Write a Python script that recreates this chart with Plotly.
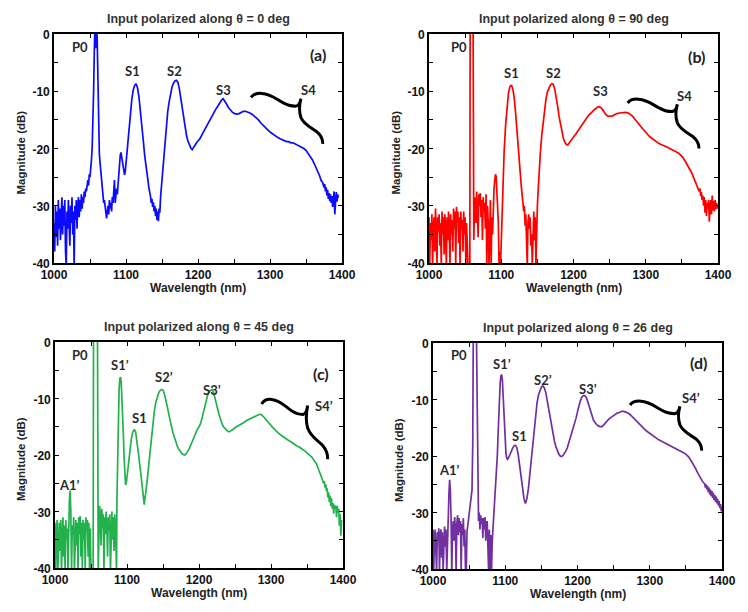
import plotly.graph_objects as go

PAGE_W, PAGE_H = 748, 612
OFF = 8                      # default page body margin
W, H = PAGE_W - 2 * OFF, PAGE_H - 2 * OFF

# ---------------- data (wavelength nm, magnitude dB) ----------------
spec_a = [(1000,-33),(1001,-38),(1002,-30),(1003,-35.5),(1004,-31),(1005,-37),(1006,-29),(1007,-34),(1008,-30.5),(1009,-36),
(1010,-32),(1011,-28.5),(1012,-35),(1013,-30),(1014,-33.5),(1015,-29),(1016,-38),(1017,-40.5),(1018,-31),(1019,-34),
(1020,-29),(1021,-32),(1022,-37),(1023,-30),(1024,-33),(1025,-28.5),(1026,-35),(1027,-31),(1028,-40.5),(1029,-30),
(1030,-32.5),(1031,-29),(1032,-34),(1033,-30),(1034,-28.5),(1035,-32),(1036,-29),(1037,-31),(1038,-28),(1039,-30.5),
(1040,-28.5),(1041,-29.5),(1042,-27.5),(1043,-28.5),(1044,-27),(1045,-27.5),(1046,-26),(1047,-25.5),(1048,-26.5),(1049,-24.5),
(1050,-25),(1051,-24),(1052,-22),(1053,-20),(1054,-16),(1055,-10),(1056,-3),(1057,2),(1058,-2.5),(1059,2),
(1060,-1),(1061,-8),(1062,-17),(1063,-21),(1064,-22.5),(1065,-24),(1066,-25.5),(1067,-27),(1068,-28),(1069,-29.5),
(1070,-29),(1071,-30.5),(1072,-31),(1073,-32.2),(1074,-31),(1075,-30),(1076,-31.5),(1077,-29),(1078,-30.5),(1079,-29.5),
(1080,-31),(1081,-28.5),(1082,-29.5),(1083,-27),(1084,-25.5),(1085,-29.5),(1086,-28),(1087,-27),(1088,-28),(1089,-26),
(1090,-24.5),(1091,-23),(1092,-21.2),(1093,-20.7),(1094,-21.5),(1095,-22.8),(1096,-23.5),(1097,-24.2),(1098,-24.6),(1099,-24),
(1100,-22.5),(1102,-20),(1104,-16.8),(1106,-13.8),(1108,-11.5),(1110,-9.8),(1112,-9.0),(1114,-8.7),(1116,-9.4),(1118,-11),
(1120,-13.2),(1122,-15.8),(1124,-18.6),(1126,-21.3),(1128,-23.6),(1130,-25.5),(1132,-27),(1134,-28.3),(1135,-29.5),(1136,-28.8),
(1137,-30.2),(1138,-29.4),(1139,-31),(1140,-30),(1141,-31.8),(1142,-30.5),(1143,-32.5),(1144,-31),(1145,-32.7),(1146,-30.5),
(1147,-31.2),(1148,-28.5),(1149,-27),(1150,-25),(1152,-21.5),(1154,-18.3),(1156,-15.7),(1158,-13.5),(1160,-11.8),(1162,-10.3),
(1164,-9.2),(1166,-8.6),(1168,-8.2),(1170,-8.1),(1172,-8.4),(1174,-9.5),(1176,-11.1),(1178,-13),(1180,-14.8),(1182,-16.4),
(1184,-17.7),(1186,-18.7),(1188,-19.4),(1190,-19.9),(1192,-20.2),(1194,-19.9),(1196,-19.4),(1198,-19),(1200,-18.7),(1203,-18.2),
(1206,-17.5),(1209,-16.8),(1212,-16),(1215,-15.2),(1218,-14.6),(1221,-13.9),(1224,-13.3),(1227,-12.7),(1230,-12.0),(1233,-11.5),
(1235,-11.3),(1237,-11.6),(1239,-12.1),(1242,-12.8),(1245,-13.3),(1248,-13.7),(1251,-13.9),(1254,-14.0),(1257,-13.9),(1260,-13.7),
(1263,-13.5),(1266,-13.5),(1269,-13.6),(1272,-13.8),(1275,-14.0),(1278,-14.3),(1281,-14.6),(1284,-15.0),(1287,-15.5),(1290,-15.9),
(1293,-16.3),(1296,-16.6),(1299,-17.0),(1302,-17.3),(1305,-17.6),(1308,-17.8),(1311,-18.1),(1314,-18.3),(1317,-18.5),(1320,-18.6),
(1323,-18.8),(1326,-18.8),(1329,-19.0),(1332,-19.0),(1335,-19.2),(1338,-19.3),(1341,-19.5),(1344,-19.7),(1347,-20.0),(1350,-20.3),
(1353,-20.8),(1356,-21.4),(1359,-22.0),(1362,-22.8),(1365,-23.6),(1367,-24.3),(1369,-24.8),(1371,-25.6),(1373,-25.9),(1375,-26.8),
(1376,-26.2),(1377,-27.5),(1378,-26.8),(1379,-28.2),(1380,-27.2),(1381,-28.8),(1382,-27.8),(1383,-29.2),(1384,-28),(1385,-29.5),
(1386,-28.3),(1387,-30.2),(1388,-28.5),(1389,-27.5),(1390,-31.5),(1391,-29.5),(1392,-27.6),(1393,-29.3),(1394,-28),(1395,-28.6)]

spec_b = [(1000,-32),(1001,-40.5),(1002,-33),(1003,-36),(1004,-31.5),(1005,-40.5),(1006,-34),(1007,-32),(1008,-38),(1009,-30.5),
(1010,-35),(1011,-40.5),(1012,-32),(1013,-34.5),(1014,-31.5),(1015,-37),(1016,-33),(1017,-40.5),(1018,-31),(1019,-35),
(1020,-32),(1021,-38.5),(1022,-31.5),(1023,-34),(1024,-40.5),(1025,-32),(1026,-36),(1027,-31),(1028,-33.5),(1029,-40.5),
(1030,-31.5),(1031,-35),(1032,-32.5),(1033,-38),(1034,-30.5),(1035,-34),(1036,-31),(1037,-40.5),(1038,-30.2),(1039,-33),
(1040,-31),(1041,-36.5),(1042,-32),(1043,-40.5),(1044,-31),(1045,-34),(1046,-32.5),(1047,-38),(1048,-31),(1049,-35),
(1050,-32),(1051,-40.5),(1052,-33),(1053,-36),(1054,-40.5),(1056.5,-40.5),(1057,3),(1061,3),(1062,-36),(1063,-30),
(1064,-28.5),(1065,-33),(1066,-27.5),(1067,-31),(1068,-35.5),(1069,-28),(1070,-30),(1071,-27.8),(1072,-32),(1073,-29),
(1074,-36),(1075,-28.5),(1076,-31),(1077,-29.5),(1078,-34),(1079,-28),(1080,-40.5),(1081,-30),(1082,-33),(1083,-40.5),
(1084,-31.5),(1085,-29),(1086,-40.5),(1087,-32),(1088,-35),(1089,-30),(1090,-27),(1091,-25.5),(1092,-24.5),(1093,-25),
(1094,-27),(1095,-29),(1096,-33),(1097,-40.5),(1098,-38),(1099,-40.5),(1100,-36),(1101,-30),(1102,-26),(1104,-20.5),
(1106,-16),(1108,-12.6),(1110,-10.3),(1112,-9.2),(1114,-8.9),(1116,-9.6),(1118,-11.2),(1120,-14),(1122,-17.5),(1124,-21),
(1126,-24.3),(1128,-27),(1130,-29.5),(1131,-31),(1132,-30),(1133,-33.5),(1134,-31.5),(1135,-36),(1136,-40.5),(1137,-33),
(1138,-31.5),(1139,-34),(1140,-32),(1141,-37),(1142,-35),(1143,-40.5),(1144,-34),(1145,-31),(1146,-36),(1147,-32),
(1148,-40.5),(1149,-33),(1150,-30),(1151,-27.5),(1152,-25),(1154,-21),(1156,-17.8),(1158,-15.2),(1160,-13),(1162,-11.3),
(1164,-10.1),(1166,-9.3),(1168,-8.9),(1170,-8.7),(1172,-8.8),(1174,-9.6),(1176,-10.8),(1178,-12.6),(1180,-14.4),(1182,-15.9),
(1184,-17.2),(1186,-18.2),(1188,-18.9),(1190,-19.3),(1192,-19.4),(1194,-19.1),(1196,-18.7),(1198,-18.3),(1200,-18.0),(1203,-17.5),
(1206,-16.9),(1209,-16.3),(1212,-15.7),(1215,-15.2),(1218,-14.7),(1221,-14.2),(1224,-13.8),(1227,-13.4),(1230,-13.1),(1233,-12.8),
(1236,-12.7),(1239,-13.0),(1242,-13.6),(1245,-14.1),(1248,-14.4),(1251,-14.4),(1254,-14.3),(1257,-14.1),(1260,-13.9),(1264,-13.8),
(1268,-13.7),(1272,-13.7),(1276,-13.8),(1279,-14.1),(1282,-14.4),(1285,-14.9),(1288,-15.3),(1291,-15.8),(1294,-16.3),(1297,-16.8),
(1300,-17.2),(1303,-17.6),(1306,-18.0),(1309,-18.3),(1312,-18.6),(1315,-18.9),(1318,-19.1),(1321,-19.3),(1324,-19.4),(1327,-19.6),
(1330,-19.8),(1333,-20.0),(1336,-20.1),(1339,-20.3),(1342,-20.5),(1345,-20.8),(1348,-21.1),(1351,-21.5),(1354,-22.1),(1357,-22.7),
(1360,-23.4),(1363,-24.1),(1366,-25.0),(1368,-25.6),(1370,-26.3),(1372,-26.8),(1374,-27.5),(1375,-27),(1376,-28.3),(1377,-27.6),
(1378,-29),(1379,-28.2),(1380,-30),(1381,-28.5),(1382,-31.2),(1383,-29),(1384,-31.8),(1385,-29.5),(1386,-30.5),(1387,-29),
(1388,-32.8),(1389,-30.5),(1390,-29),(1391,-31.5),(1392,-28.2),(1393,-30.8),(1394,-29.2),(1395,-31),(1396,-29),(1397,-30.6),
(1398,-29.5),(1399,-30.5),(1400,-30)]

spec_c = [(1000,-32),(1001,-40.5),(1002,-33.5),(1003,-31.5),(1004,-40.5),(1005,-34),(1006,-32),(1007,-37),(1008,-31.5),(1009,-40.5),
(1010,-33),(1011,-31),(1012,-38),(1013,-32.5),(1014,-40.5),(1015,-31.5),(1016,-35),(1017,-33),(1018,-40.5),(1019,-31),
(1020,-28),(1021,-26.3),(1022,-30),(1023,-40.5),(1024,-32.5),(1025,-34),(1026,-31),(1027,-40.5),(1028,-33),(1029,-31.5),
(1030,-36),(1031,-32),(1032,-40.5),(1033,-31),(1034,-34),(1035,-30.8),(1036,-38),(1037,-32),(1038,-40.5),(1039,-31.5),
(1040,-35),(1041,-32),(1042,-40.5),(1043,-31),(1044,-33.5),(1045,-31.5),(1046,-38),(1047,-32),(1048,-40.5),(1049,-33),
(1050,-40.5),(1053,-40.5),(1053.5,3),(1059,3),(1060,-40.5),(1061,-34),(1062,-29),(1063,-31),(1064,-36),(1065,-29.5),
(1066,-33),(1067,-30.5),(1068,-40.5),(1069,-31),(1070,-34),(1071,-30),(1072,-32.5),(1073,-38),(1074,-31),(1075,-33.5),
(1076,-30.5),(1077,-40.5),(1078,-32),(1079,-30),(1080,-35),(1081,-31),(1082,-37),(1083,-30.5),(1084,-33),(1085,-40.5),
(1085.5,-40.5),(1086,-28),(1087,-20),(1088,-13),(1089,-8.5),(1090,-6.5),(1091,-6.2),(1092,-7.2),(1093,-9.5),(1094,-12.5),
(1095,-16.5),(1096,-20.5),(1097,-23.5),(1098,-25.3),(1099,-25),(1100,-23.8),(1102,-21.2),(1104,-19),(1106,-17.2),(1108,-16),
(1110,-15.5),(1112,-15.9),(1114,-17.6),(1116,-19.8),(1118,-22),(1120,-24.3),(1122,-26.6),(1123,-28.5),(1124,-28.8),(1125,-27.5),
(1126,-26.8),(1128,-24.5),(1130,-22.1),(1132,-19.4),(1134,-16.7),(1136,-14.2),(1138,-12.2),(1140,-10.7),(1142,-9.7),(1144,-9.0),
(1146,-8.6),(1148,-8.4),(1150,-8.5),(1152,-9.2),(1154,-10.3),(1156,-11.6),(1158,-12.8),(1160,-14.0),(1162,-15.1),(1164,-16.1),
(1166,-17.0),(1168,-17.8),(1170,-18.5),(1172,-19.0),(1174,-19.4),(1176,-19.7),(1178,-19.9),(1180,-20.0),(1182,-19.8),(1184,-19.5),
(1186,-19.0),(1188,-18.4),(1190,-17.8),(1192,-17.1),(1194,-16.4),(1196,-15.9),(1198,-15.4),(1200,-15.0),(1202,-14.5),(1204,-13.6),
(1206,-12.5),(1208,-11.2),(1210,-10.2),(1212,-9.4),(1214,-8.8),(1216,-8.5),(1218,-8.4),(1220,-8.8),(1222,-9.7),(1224,-10.8),
(1226,-11.9),(1228,-12.9),(1230,-13.8),(1232,-14.5),(1234,-15.0),(1237,-15.5),(1240,-15.8),(1242,-15.9),(1245,-15.7),(1248,-15.4),
(1251,-15.1),(1254,-14.9),(1257,-14.6),(1260,-14.4),(1263,-14.2),(1266,-13.9),(1269,-13.7),(1272,-13.5),(1275,-13.3),(1278,-13.1),
(1281,-12.9),(1284,-12.8),(1286,-12.8),(1288,-13.0),(1291,-13.4),(1294,-13.9),(1297,-14.4),(1300,-14.8),(1303,-15.2),(1306,-15.6),
(1309,-16.0),(1312,-16.3),(1315,-16.6),(1318,-16.9),(1321,-17.1),(1324,-17.4),(1327,-17.6),(1330,-17.9),(1333,-18.2),(1336,-18.4),
(1339,-18.6),(1342,-18.8),(1345,-19.1),(1348,-19.4),(1351,-19.7),(1354,-20.0),(1357,-20.4),(1360,-21.0),(1363,-21.5),(1365,-22.2),
(1367,-22.8),(1369,-23.5),(1371,-24.2),(1373,-25.0),(1374,-24.6),(1375,-25.8),(1376,-25.2),(1377,-26.4),(1378,-25.9),(1379,-27.5),
(1380,-26.6),(1381,-28.3),(1382,-27.2),(1383,-29),(1384,-27.6),(1385,-29.5),(1386,-28.5),(1387,-30.4),(1388,-28.8),(1389,-29.5),
(1390,-29),(1391,-31),(1392,-29),(1393,-30.2),(1394,-29.5),(1395,-32.5),(1396,-30.5),(1397,-34.3),(1398,-31.5)]

spec_d = [(1000,-33),(1001,-40.5),(1002,-34.5),(1003,-33),(1004,-37),(1005,-40.5),(1006,-33.5),(1007,-35),(1008,-32.8),(1009,-40.5),
(1010,-34),(1011,-33),(1012,-38),(1013,-33.5),(1014,-40.5),(1015,-34),(1016,-32.5),(1017,-36),(1018,-33),(1019,-40.5),
(1020,-35),(1021,-32),(1022,-27),(1023,-24.2),(1024,-26),(1025,-31),(1026,-40.5),(1027,-33),(1028,-31.5),(1029,-35),
(1030,-30.8),(1031,-33),(1032,-40.5),(1033,-32),(1034,-30.5),(1035,-34),(1036,-31),(1037,-33.5),(1038,-31.5),(1039,-40.5),
(1040,-32),(1041,-34),(1042,-31),(1043,-36),(1044,-33),(1045,-40.5),(1046,-40.5),(1047,-33.5),(1048,-32.5),(1049,-30.8),
(1050,-30),(1051,-29),(1052,-28.5),(1053,-27.8),(1054,-26),(1055,-18),(1055.8,3),(1060,3),(1061,-12),(1061.8,-27),
(1062.5,-29),(1063,-31.5),(1064,-30),(1065,-33),(1066,-30.5),(1067,-32),(1068,-31),(1069,-34.5),(1070,-31),(1071,-33),
(1072,-30.8),(1073,-35),(1074,-32),(1075,-31.5),(1076,-36),(1077,-40.5),(1078,-33),(1079,-40.5),(1080,-34),(1081,-40.5),
(1082,-35),(1083,-33),(1084,-30.5),(1085,-28.5),(1086,-27),(1087,-25),(1088,-22.8),(1089,-20),(1090,-16.5),(1091,-12.8),
(1092,-9.5),(1093,-7),(1094,-5.8),(1095,-5.6),(1096,-6.5),(1097,-9),(1098,-12.5),(1099,-15.8),(1100,-18.2),(1101,-19.6),
(1102,-20.3),(1103,-20.6),(1104,-20.5),(1106,-20),(1108,-19.3),(1110,-18.7),(1112,-18.2),(1114,-18.1),(1116,-18.5),(1118,-19.8),
(1120,-21.8),(1122,-24),(1124,-26),(1126,-27.6),(1128,-28.4),(1130,-27.5),(1132,-25.8),(1134,-23.3),(1136,-20.4),(1138,-17.5),
(1140,-14.9),(1142,-12.5),(1144,-10.6),(1146,-9.2),(1148,-8.3),(1150,-7.8),(1152,-7.6),(1154,-7.9),(1156,-8.7),(1158,-10.1),
(1160,-11.8),(1162,-13.4),(1164,-14.9),(1166,-16.2),(1168,-17.3),(1170,-18.3),(1172,-19.0),(1174,-19.6),(1176,-20.0),(1178,-20.1),
(1180,-19.9),(1182,-19.6),(1184,-19.1),(1186,-18.5),(1188,-17.7),(1190,-16.9),(1192,-16.1),(1194,-15.3),(1196,-14.4),(1198,-13.3),
(1200,-12.2),(1202,-11.1),(1204,-10.2),(1206,-9.6),(1208,-9.3),(1210,-9.3),(1212,-9.6),(1214,-10.3),(1216,-11.2),(1218,-12.2),
(1220,-13.0),(1222,-13.6),(1225,-14.2),(1228,-14.6),(1231,-14.8),(1234,-14.8),(1237,-14.4),(1240,-13.9),(1243,-13.5),(1246,-13.2),
(1249,-12.9),(1252,-12.6),(1255,-12.4),(1258,-12.3),(1261,-12.1),(1264,-12.1),(1267,-12.2),(1270,-12.4),(1273,-12.7),(1276,-13.1),
(1279,-13.5),(1282,-13.9),(1285,-14.3),(1288,-14.7),(1291,-15.0),(1294,-15.4),(1297,-15.7),(1300,-16.0),(1303,-16.3),(1306,-16.6),
(1309,-16.9),(1312,-17.1),(1315,-17.3),(1318,-17.5),(1321,-17.7),(1324,-17.9),(1327,-18.0),(1330,-18.2),(1333,-18.4),(1336,-18.6),
(1339,-18.8),(1342,-19.0),(1345,-19.2),(1348,-19.5),(1351,-19.8),(1354,-20.2),(1357,-20.8),(1360,-21.4),(1363,-22.1),(1366,-22.9),
(1368,-23.4),(1370,-23.9),(1372,-24.3),(1374,-24.7),(1376,-24.9),(1377,-25.6),(1378,-25.0),(1379,-25.9),(1380,-25.3),(1381,-26.4),
(1382,-25.6),(1383,-26.8),(1384,-25.9),(1385,-27.1),(1386,-26.2),(1387,-27.4),(1388,-26.5),(1389,-27.8),(1390,-26.9),(1391,-28.1),
(1392,-27.2),(1393,-28.4),(1394,-27.6),(1395,-28.8),(1396,-28),(1397,-29.2),(1398,-28.5),(1399,-29.8),(1400,-29)]

x_ticks = [1000, 1050, 1100, 1150, 1200, 1250, 1300, 1350, 1400]
x_ticktext = ["1000", "", "1100", "", "1200", "", "1300", "", "1400"]
y_ticks = [-40, -35, -30, -25, -20, -15, -10, -5, 0]
y_ticktext = ["-40", "", "-30", "", "-20", "", "-10", "", "0"]

titles = ["Input polarized along θ = 0 deg", "Input polarized along θ = 90 deg",
          "Input polarized along θ = 45 deg", "Input polarized along θ = 26 deg"]
tags = ["(a)", "(b)", "(c)", "(d)"]
colors = ["#0a0aff", "#ff0000", "#22b14c", "#7030a0"]

labels_a = [("P0", 1036, -2.2), ("S1", 1108.5, -6.5), ("S2", 1168, -6.5), ("S3", 1235, -9.7), ("S4", 1353.5, -9.7)]
labels_b = [("P0", 1041, -2.2), ("S1", 1113.5, -6.8), ("S2", 1172.5, -6.8), ("S3", 1238, -10.0), ("S4", 1353.7, -10.9)]
labels_c = [("P0", 1035, -2.3), ("S1’", 1090.6, -4.1), ("S1", 1118, -13.5), ("S2’", 1151, -6.2),
            ("S3’", 1217.6, -8.5), ("S4’", 1373.6, -11.4), ("A1’", 1020.6, -25.3)]
labels_d = [("P0", 1035.6, -2.2), ("S1’", 1095, -3.8), ("S1", 1120, -16.5), ("S2’", 1152.8, -6.5),
            ("S3’", 1215, -8.2), ("S4’", 1356.5, -9.8), ("A1’", 1023, -22.4)]
tag_pos = [(1367, -3.6), (1370, -3.9), (1369, -5.5), (1368, -3.5)]

# brace endpoints (left end, lower end) in data units
braces = [((1273.6, -11.06), (1373.2, -19.2)), ((1275, -12.05), (1373.6, -20.0)),
          ((1287, -10.97), (1378.7, -20.76)), ((1272.7, -10.97), (1371.8, -19.06))]

# ---------------- layout geometry (page pixels) ----------------
boxes = [(54, 342, 34, 263), (429, 718, 34, 263), (55, 343, 342, 568), (433, 722, 343, 569)]

# brace template (relative to left end, full size dx=99.6, dy=-8.14)
brace_tpl = [("M", [(0, 0)]),
             ("C", [(6.4, 1.06), (21.4, 0.86), (36.4, -0.34)]),
             ("S", [(56.4, -1.54), (62.4, -1.54)]),
             ("Q", [(67.4, -1.44), (69.4, -0.24)]),
             ("Q", [(65.4, -2.14), (69.4, -3.54)]),
             ("C", [(74.4, -4.94), (86.4, -5.44), (92.4, -6.14)]),
             ("S", [(99.9, -7.34), (99.6, -8.14)])]


def brace_path(L, E):
    sx = (E[0] - L[0]) / 99.6
    sy = (E[1] - L[1]) / -8.14
    parts = []
    for cmd, pts in brace_tpl:
        coords = " ".join(f"{L[0] + u * sx:.2f},{L[1] + v * sy:.2f}" for u, v in pts)
        parts.append(f"{cmd} {coords}")
    return " ".join(parts)


def px(xp):
    return (xp - OFF) / W


def py(yp):
    return 1 - (yp - OFF) / H


specs = [spec_a, spec_b, spec_c, spec_d]
all_labels = [labels_a, labels_b, labels_c, labels_d]

fig = go.Figure()
annotations = []
shapes = []
FONT = "Liberation Sans"
LFONT = "Lato"

for i in range(4):
    n = "" if i == 0 else str(i + 1)
    xa, ya = "x" + n, "y" + n
    x0, x1, y0, y1 = boxes[i]
    wl = [p[0] for p in specs[i]]
    mag = [p[1] for p in specs[i]]
    fig.add_trace(go.Scatter(x=wl, y=mag, mode="lines", xaxis=xa, yaxis=ya,
                             line=dict(color=colors[i], width=1.7), showlegend=False))
    axis_common = dict(showline=True, linecolor="black", linewidth=1.6, mirror="ticks",
                       ticks="inside", ticklen=4, tickwidth=1.3, tickcolor="black",
                       showgrid=False, zeroline=False, automargin=False,
                       tickfont=dict(family=FONT, size=12, color="#111", weight="bold"))
    fig.update_layout({
        "xaxis" + n: dict(domain=[px(x0), px(x1)], range=[1000, 1400], anchor=ya,
                          tickvals=x_ticks, ticktext=x_ticktext, ticklabelstandoff=0, **axis_common),
        "yaxis" + n: dict(domain=[py(y1), py(y0)], range=[-40, 0], anchor=xa,
                          tickvals=y_ticks, ticktext=y_ticktext, ticklabelshift=1, **axis_common),
    })
    cx = px((x0 + x1) / 2)
    annotations.append(dict(text=titles[i], xref="paper", yref="paper", x=cx, y=py(y0 - 15),
                            showarrow=False, xanchor="center", yanchor="middle",
                            font=dict(family=FONT, size=12.5, color="#333", weight="bold")))
    annotations.append(dict(text="Wavelength (nm)", xref="paper", yref="paper", x=cx, y=py(y1 + 25),
                            showarrow=False, xanchor="center", yanchor="middle",
                            font=dict(family=FONT, size=12, color="#222", weight="bold")))
    annotations.append(dict(text="Magnitude (dB)", xref="paper", yref="paper", x=px(x0 - 34),
                            y=py((y0 + y1) / 2 + 4), textangle=-90,
                            showarrow=False, xanchor="center", yanchor="middle",
                            font=dict(family=FONT, size=11.5, color="#222", weight="bold")))
    for txt, lx, ly in all_labels[i]:
        annotations.append(dict(text=txt, xref=xa, yref=ya, x=lx, y=ly, showarrow=False,
                                xanchor="center", yanchor="middle",
                                font=dict(family=LFONT, size=13, color="#2a2a2a", weight="bold")))
    annotations.append(dict(text=tags[i], xref=xa, yref=ya, x=tag_pos[i][0], y=tag_pos[i][1],
                            showarrow=False, xanchor="center", yanchor="middle",
                            font=dict(family=LFONT, size=16, color="#222", weight="bold")))
    L, E = braces[i]
    shapes.append(dict(type="path", xref=xa, yref=ya, path=brace_path(L, E),
                       line=dict(color="black", width=3)))

fig.update_layout(width=W, height=H, autosize=False, margin=dict(l=0, r=0, t=0, b=0),
                  paper_bgcolor="white", plot_bgcolor="white",
                  annotations=annotations, shapes=shapes)

fig.write_html("out.html")
